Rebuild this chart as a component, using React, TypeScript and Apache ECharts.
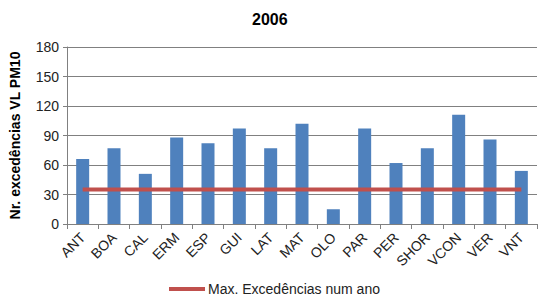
import React, { useEffect, useRef } from "react";
import * as echarts from "echarts";

const categories = ["ANT", "BOA", "CAL", "ERM", "ESP", "GUI", "LAT", "MAT", "OLO", "PAR", "PER", "SHOR", "VCON", "VER", "VNT"];
const exceedances = [66, 77, 51, 88, 82, 97, 77, 102, 15, 97, 62, 77, 111, 86, 54];
const maxExceedances = [35, 35, 35, 35, 35, 35, 35, 35, 35, 35, 35, 35, 35, 35, 35];
const yTicks = { min: 0, max: 180, interval: 30 };

export default function App() {
  const ref = useRef<HTMLDivElement>(null);
  useEffect(() => {
    const chart = echarts.init(ref.current!, null, { renderer: "svg" });
    const font = "Liberation Sans, Arial, sans-serif";
    chart.setOption({
      animation: false,
      backgroundColor: "#ffffff",
      title: {
        text: "2006",
        left: 247,
        top: 6,
        textStyle: { fontFamily: font, fontSize: 16, fontWeight: "bold", color: "#000" },
      },
      legend: {
        top: 277,
        left: 164,
        itemWidth: 36,
        itemHeight: 4,
        itemGap: 4,
        data: [{ name: "Max. Excedências num ano", icon: "rect" }],
        textStyle: { fontFamily: font, fontSize: 14, color: "#222", padding: [0, 0, 0, -2] },
      },
      grid: { left: 66, right: 3, top: 47, bottom: 76 },
      xAxis: {
        type: "category",
        data: categories,
        boundaryGap: true,
        axisLine: { lineStyle: { color: "#808080", width: 1 } },
        axisTick: { show: true, length: 5, alignWithLabel: false, lineStyle: { color: "#808080" } },
        axisLabel: { rotate: 45, fontFamily: font, fontSize: 14, color: "#222", margin: 11, interval: 0 },
      },
      yAxis: {
        type: "value",
        min: yTicks.min,
        max: yTicks.max,
        interval: yTicks.interval,
        name: "Nr. excedências VL PM10",
        nameLocation: "middle",
        nameGap: 45,
        nameTextStyle: { fontFamily: font, fontSize: 14, fontWeight: "bold", color: "#000" },
        axisLine: { show: true, lineStyle: { color: "#808080" } },
        axisTick: { show: true, length: 4, lineStyle: { color: "#808080" } },
        axisLabel: { fontFamily: font, fontSize: 14, color: "#222", margin: 8 },
        splitLine: { lineStyle: { color: "#808080", width: 1 } },
      },
      series: [
        {
          name: "Nr. excedências",
          type: "bar",
          data: exceedances,
          barWidth: 13,
          itemStyle: { color: "#4F81BD" },
        },
        {
          name: "Max. Excedências num ano",
          type: "line",
          data: maxExceedances,
          symbol: "none",
          lineStyle: { color: "#C0504D", width: 4 },
          itemStyle: { color: "#C0504D" },
        },
      ],
    });
    return () => chart.dispose();
  }, []);
  return <div ref={ref} style={{ position: "fixed", left: 0, top: 0, width: 540, height: 300 }} />;
}
